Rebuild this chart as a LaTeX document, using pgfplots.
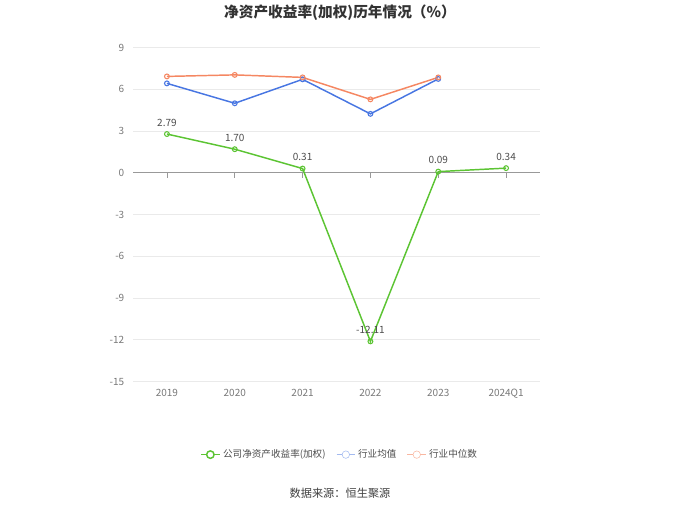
\documentclass[border=0pt]{standalone}
\usepackage{pgfplots}
\pgfplotsset{compat=1.18}
\usepackage{fontspec}
\setmainfont{Noto Sans CJK SC}
\definecolor{cgreen}{RGB}{92,196,51}
\definecolor{cblue}{RGB}{72,118,226}
\definecolor{corange}{RGB}{245,135,98}
\definecolor{tickc}{RGB}{120,120,120}
\definecolor{gridc}{RGB}{234,234,234}
\begin{document}
\begin{tikzpicture}[x=1pt,y=1pt]
\path (0,0) rectangle (510,381.75);
\node[font=\fontsize{11}{13}\selectfont\bfseries, text=black!80] at (255,373) {净资产收益率(加权)历年情况（\%）};
\node[font=\fontsize{8.4}{10}\selectfont, text=black!75] at (255,12) {数据来源：恒生聚源};
\begin{axis}[
  at={(99.75pt,96pt)}, anchor=south west,
  scale only axis, width=305.25pt, height=250.5pt,
  xmin=-0.5, xmax=5.5, ymin=-15, ymax=9,
  xtick={0,1,2,3,4,5},
  xticklabels={2019,2020,2021,2022,2023,2024Q1},
  ytick={-15,-12,-9,-6,-3,0,3,6,9},
  axis line style={draw=none},
  major tick length=0pt,
  ymajorgrids, grid style={gridc, line width=0.6pt},
  tick label style={font=\fontsize{7.5}{9}\selectfont, text=tickc},
  /pgf/number format/assume math mode=true,
  yticklabel style={xshift=-3pt},
  xticklabel style={yshift=-2pt},
  legend columns=3,
  legend style={draw=none, fill=none, at={(0.5086,-0.2186)}, anchor=center,
    font=\fontsize{7.2}{9}\selectfont, text=black!70,
    /tikz/every even column/.append style={column sep=6pt}},
  legend image code/.code={
    \draw[#1, mark=none] (0pt,0pt) -- (14pt,0pt);
    \draw[#1, fill=white, mark=none] (7pt,0pt) circle (2.8pt);
  },
  clip=false,
]
\draw[gray!80, line width=0.7pt] (axis cs:-0.5,0) -- (axis cs:5.5,0);
\draw[gray!80, line width=0.6pt] (axis cs:0,0) -- ([yshift=-3.5pt]axis cs:0,0);
\draw[gray!80, line width=0.6pt] (axis cs:1,0) -- ([yshift=-3.5pt]axis cs:1,0);
\draw[gray!80, line width=0.6pt] (axis cs:2,0) -- ([yshift=-3.5pt]axis cs:2,0);
\draw[gray!80, line width=0.6pt] (axis cs:3,0) -- ([yshift=-3.5pt]axis cs:3,0);
\draw[gray!80, line width=0.6pt] (axis cs:4,0) -- ([yshift=-3.5pt]axis cs:4,0);
\draw[gray!80, line width=0.6pt] (axis cs:5,0) -- ([yshift=-3.5pt]axis cs:5,0);
\addplot[cgreen, line width=1.1pt, mark=o, mark size=1.8pt, mark options={fill=white, line width=0.8pt},
  nodes near coords, point meta=explicit,
  every node near coord/.append style={font=\fontsize{7.5}{9}\selectfont, text=black!70, anchor=south, yshift=2pt},
  nodes near coords={\pgfmathprintnumber[fixed, precision=2, zerofill]{\pgfplotspointmeta}}]
  coordinates {(0,2.79) [2.79] (1,1.70) [1.70] (2,0.31) [0.31] (3,-12.11) [-12.11] (4,0.09) [0.09] (5,0.34) [0.34]};
\addlegendentry{公司净资产收益率(加权)}
\addplot[cblue, line width=1.1pt, mark=o, mark size=1.8pt, mark options={fill=white, line width=0.8pt}, forget plot]
  coordinates {(0,6.43) (1,5.00) (2,6.72) (3,4.24) (4,6.75)};
\addplot[corange, line width=1.1pt, mark=o, mark size=1.8pt, mark options={fill=white, line width=0.8pt}, forget plot]
  coordinates {(0,6.93) (1,7.04) (2,6.86) (3,5.28) (4,6.86)};
\addlegendimage{cblue!50}
\addlegendentry{行业均值}
\addlegendimage{corange!60}
\addlegendentry{行业中位数}
\end{axis}
\end{tikzpicture}
\end{document}
